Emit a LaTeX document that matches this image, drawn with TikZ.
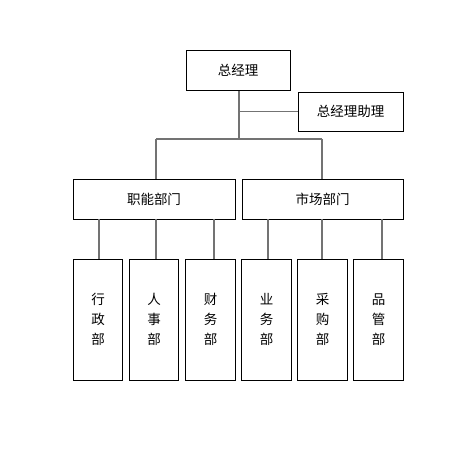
\documentclass[tikz,border=0pt]{standalone}
\usepackage{fontspec}
\setmainfont{Noto Sans CJK SC}
\begin{document}
\begin{tikzpicture}[x=1pt,y=-1pt,
  box/.style={draw=black,line width=0.9pt,inner sep=0pt,font=\fontsize{13.5}{20}\selectfont,align=center},
  link/.style={draw=black!55,line width=1.3pt}]
\useasboundingbox (0,0) rectangle (475,454);
\node[box,minimum width=104pt,minimum height=40pt] (gm) at (238,70.5) {总经理};
\node[box,minimum width=105pt,minimum height=39pt] (asst) at (350.5,111.5) {总经理助理};
\node[box,minimum width=162pt,minimum height=40pt] (func) at (154,199) {职能部门};
\node[box,minimum width=161pt,minimum height=40pt] (mkt) at (322.5,199) {市场部门};
\node[box,minimum width=49.5pt,minimum height=121pt] (d1) at (98,319.5) {行\\政\\部};
\node[box,minimum width=49.5pt,minimum height=121pt] (d2) at (154,319.5) {人\\事\\部};
\node[box,minimum width=49.5pt,minimum height=121pt] (d3) at (210.5,319.5) {财\\务\\部};
\node[box,minimum width=49.5pt,minimum height=121pt] (d4) at (266.5,319.5) {业\\务\\部};
\node[box,minimum width=49.5pt,minimum height=121pt] (d5) at (322.5,319.5) {采\\购\\部};
\node[box,minimum width=49.5pt,minimum height=121pt] (d6) at (378.5,319.5) {品\\管\\部};
\coordinate (mid) at (239,139);
\coordinate (busL) at (156,139);
\coordinate (busR) at (322,139);
\coordinate (xa) at (99,0);
\coordinate (xb) at (156,0);
\coordinate (xc) at (214,0);
\coordinate (xd) at (268,0);
\coordinate (xe) at (322,0);
\coordinate (xf) at (382,0);
\draw[link] (mid |- gm.south) -- (mid);
\draw[link] (mid |- asst.west) -- (asst.west);
\draw[link] (busL) -- (busR);
\draw[link] (busL) -- (busL |- func.north);
\draw[link] (busR) -- (busR |- mkt.north);
\draw[link] (xa |- func.south) -- (xa |- d1.north);
\draw[link] (xb |- func.south) -- (xb |- d2.north);
\draw[link] (xc |- func.south) -- (xc |- d3.north);
\draw[link] (xd |- mkt.south) -- (xd |- d4.north);
\draw[link] (xe |- mkt.south) -- (xe |- d5.north);
\draw[link] (xf |- mkt.south) -- (xf |- d6.north);
\end{tikzpicture}
\end{document}
